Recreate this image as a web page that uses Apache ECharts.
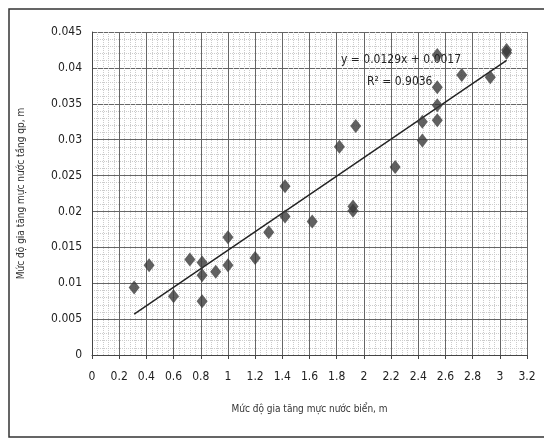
<!DOCTYPE html>
<html>
<head>
    <meta charset="utf-8" />
    <script src="https://cdn.jsdelivr.net/npm/echarts@6/dist/echarts.min.js"></script>
    <style type="text/css">
        html,
        body {
            width: 100%;
            height: 100%;
            margin: 0;
            background: #fff;
        }

        #chart {
            width: 544px;
            height: 440px;
        }
    </style>
</head>
<body>
    <div id="chart"></div>
    <script>
        // mức độ gia tăng mực nước biển (m)
        var seaRise = [0.31, 0.42, 0.6, 0.72, 0.81, 0.81, 0.81, 0.91, 1.0, 1.0,
            1.2, 1.3, 1.42, 1.42, 1.62, 1.82, 1.92, 1.92, 1.94, 2.23,
            2.43, 2.43, 2.54, 2.54, 2.54, 2.54, 2.72, 2.93, 3.05, 3.05];
        // mức độ gia tăng mực nước tầng qp (m)
        var aquiferRise = [0.0094, 0.0125, 0.0082, 0.0133, 0.0129, 0.0111, 0.0075, 0.0116, 0.0125, 0.0164,
            0.0135, 0.0171, 0.0193, 0.0235, 0.0186, 0.029, 0.0207, 0.0201, 0.0319, 0.0262,
            0.0325, 0.0299, 0.0418, 0.0373, 0.0348, 0.0327, 0.039, 0.0387, 0.0425, 0.0421];

        var slope = 0.0129, intercept = 0.0017, r2 = 0.9036;

        var points = seaRise.map(function (x, i) { return [x, aquiferRise[i]]; });
        var xMin = Math.min.apply(null, seaRise), xMax = Math.max.apply(null, seaRise);
        var trend = [[xMin, slope * xMin + intercept], [xMax, slope * xMax + intercept]];

        var font = "'DejaVu Sans Condensed', 'Liberation Sans Narrow', 'Liberation Sans', sans-serif";

        var chart = echarts.init(document.getElementById('chart'), null, { renderer: 'canvas' });
        chart.setOption({
            backgroundColor: '#fff',
            animation: false,
            grid: { left: 92, right: 17, top: 32, bottom: 85 },
            xAxis: {
                type: 'value',
                min: 0, max: 3.2, interval: 0.2,
                name: 'Mức độ gia tăng mực nước biển, m',
                nameLocation: 'middle', nameGap: 49,
                nameTextStyle: { fontFamily: font, fontSize: 10, color: '#333' },
                axisLine: { lineStyle: { color: '#444' } },
                axisTick: { show: true, length: 4, lineStyle: { color: '#444' } },
                axisLabel: { fontFamily: font, fontSize: 12, color: '#222', margin: 16 },
                splitLine: { show: true, lineStyle: { color: '#666', width: 1 } },
                minorTick: { show: false, splitNumber: 5 },
                minorSplitLine: { show: true, lineStyle: { color: '#ccc', type: 'dotted' } }
            },
            yAxis: {
                type: 'value',
                min: 0, max: 0.045, interval: 0.005,
                name: 'Mức độ gia tăng mực nước tầng qp, m',
                nameLocation: 'middle', nameGap: 66,
                nameTextStyle: { fontFamily: font, fontSize: 10, color: '#333' },
                axisLine: { show: true, lineStyle: { color: '#444' } },
                axisTick: { show: false },
                axisLabel: { fontFamily: font, fontSize: 12, color: '#222', margin: 10 },
                splitLine: { show: true, lineStyle: { color: '#666', width: 1 } },
                minorTick: { show: false, splitNumber: 5 },
                minorSplitLine: { show: true, lineStyle: { color: '#ccc', type: 'dotted' } }
            },
            series: [
                {
                    type: 'line',
                    data: trend,
                    symbol: 'none',
                    lineStyle: { color: '#222', width: 1.4 },
                    z: 2
                },
                {
                    type: 'scatter',
                    data: points,
                    symbol: 'diamond',
                    symbolSize: [11, 14],
                    itemStyle: { color: '#3a3a3a' },
                    z: 3
                }
            ],
            graphic: [
                {
                    type: 'rect',
                    shape: { x: 9, y: 9, width: 600, height: 428 },
                    style: { fill: 'none', stroke: '#333', lineWidth: 1.5 },
                    silent: true
                },
                {
                    type: 'text', left: 341, top: 54, z: 10,
                    style: { text: 'y = ' + slope + 'x + ' + intercept, font: '12px ' + font, fill: '#222' }
                },
                {
                    type: 'text', left: 367, top: 76, z: 10,
                    style: { text: 'R² = ' + r2, font: '12px ' + font, fill: '#222' }
                }
            ]
        });
    </script>
</body>
</html>
